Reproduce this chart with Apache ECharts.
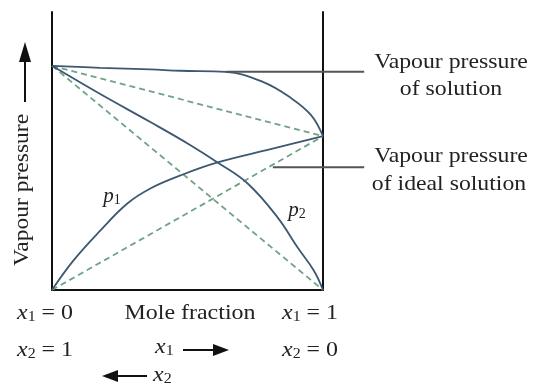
<!DOCTYPE html>
<html><head><meta charset="utf-8">
<script src="https://cdn.jsdelivr.net/npm/echarts@6/dist/echarts.min.js"></script>
<style>html,body{margin:0;padding:0;background:#fff}#c{width:533px;height:387px}</style>
</head><body><div id="c"></div>
<script>
// Mole fraction x1 (0..1) and vapour pressure (arbitrary units, p2° = 100)
const totalX = [0, 0.178, 0.363, 0.474, 0.641, 0.778, 0.881, 0.956, 1];
const totalP = [100, 99.1, 98.4, 97.8, 97.3, 92.8, 85.7, 78.0, 68.6];
const p1X = [0, 0.078, 0.178, 0.278, 0.363, 0.474, 0.611, 0.807, 1];
const p1P = [0, 13, 26.5, 38.6, 45.3, 51.1, 56.9, 62.8, 68.6];
const p2X = [0, 0.178, 0.363, 0.511, 0.611, 0.722, 0.833, 0.907, 0.967, 1];
const p2P = [100, 87.4, 74.9, 64.6, 56.9, 47.5, 32.3, 18.8, 8.5, 0];
const idealX = [0, 1];
const idealP1 = [0, 68.6];
const idealP2 = [100, 0];
const idealTotal = [100, 68.6];
// pointer (leader) lines to the annotations
const ptr1X = [0.641, 1.152], ptr1P = [97.3, 97.3];
const ptr2X = [0.815, 1.152], ptr2P = [54.7, 54.7];

const zip = (xs, ys) => xs.map((x, i) => [x, ys[i]]);
const SOLID = '#3d5870', DASH = '#6fa286', SERIF = '"Liberation Serif", "DejaVu Serif", serif';

const chart = echarts.init(document.getElementById('c'));
const lineS = (data, color, type, smooth, width) => ({
  type: 'line', data, showSymbol: false, symbol: 'none',
  smooth: smooth,
  lineStyle: { color, width, type }, silent: true, z: Array.isArray(type) ? 2 : 3
});
const rich = {
  i: { fontFamily: SERIF, fontStyle: 'italic', fontSize: 21, fill: '#222' },
  s: { fontFamily: SERIF, fontSize: 14, fill: '#222', padding: [9, 0, 0, 0] },
  n: { fontFamily: SERIF, fontSize: 21, fill: '#222' }
};
const txt = (x, y, text, align, size, sx) => ({
  type: 'text', x, y, silent: true, scaleX: sx || 1.14,
  style: { text, rich, fontFamily: SERIF, fontSize: size || 21, fill: '#222', align: align || 'center', verticalAlign: 'middle' }
});
const arrow = (x1, y1, x2, y2, hl, hw) => {
  const dx = x2 - x1, dy = y2 - y1, L = Math.hypot(dx, dy), ux = dx / L, uy = dy / L;
  hl = hl || 14; hw = hw || 5;
  const bx = x2 - ux * hl, by = y2 - uy * hl;
  return [
    { type: 'line', silent: true, shape: { x1, y1, x2: bx + ux * 2, y2: by + uy * 2 }, style: { stroke: '#111', lineWidth: 2 } },
    { type: 'polygon', silent: true, shape: { points: [[x2, y2], [bx - uy * hw, by + ux * hw], [bx + uy * hw, by - ux * hw]] }, style: { fill: '#111' } }
  ];
};
const axisCommon = { axisTick: { show: false }, axisLabel: { show: false }, splitLine: { show: false },
  axisLine: { show: true, lineStyle: { color: '#111', width: 2 } } };

chart.setOption({
  animation: false,
  grid: { left: 52, right: 210, top: 12, bottom: 97 },
  xAxis: Object.assign({ type: 'value', min: 0, max: 1 }, axisCommon),
  yAxis: [
    Object.assign({ type: 'value', min: 0, max: 124, position: 'left' }, axisCommon),
    Object.assign({ type: 'value', min: 0, max: 124, position: 'right' }, axisCommon)
  ],
  series: [
    lineS(zip(idealX, idealP1), DASH, [6, 4], false, 1.8),
    lineS(zip(idealX, idealP2), DASH, [6, 4], false, 1.8),
    lineS(zip(idealX, idealTotal), DASH, [6, 4], false, 1.8),
    lineS(zip(totalX, totalP), SOLID, 'solid', 0.4, 1.8),
    lineS(zip(p1X, p1P), SOLID, 'solid', 0.4, 1.8),
    lineS(zip(p2X, p2P), SOLID, 'solid', 0.4, 1.8)
  ]
});

const px = (x, y) => chart.convertToPixel({ gridIndex: 0 }, [x, y]);
const ptrLine = (xs, ys) => {
  const a = px(xs[0], ys[0]), b = px(xs[1], ys[1]);
  return { type: 'line', silent: true, z: 10, shape: { x1: a[0], y1: a[1], x2: b[0], y2: b[1] }, style: { stroke: '#555', lineWidth: 2 } };
};

chart.setOption({
  graphic: [
    ptrLine(ptr1X, ptr1P),
    ptrLine(ptr2X, ptr2P),
    { type: 'text', x: 22, y: 190, rotation: Math.PI / 2, scaleX: 1.12, silent: true,
      style: { text: 'Vapour pressure', fontFamily: SERIF, fontSize: 21, fill: '#222', align: 'center', verticalAlign: 'middle' } },
    ...arrow(25, 102, 25, 42, 20, 6),
    txt(451, 62, 'Vapour pressure', 'center', 22, 1.08),
    txt(451, 89, 'of solution', 'center', 22, 1.08),
    txt(451, 156, 'Vapour pressure', 'center', 22, 1.08),
    txt(449, 184, 'of ideal solution', 'center', 22, 1.08),
    txt(112, 196, '{i|p}{s|1}', 'center', 21, 1),
    txt(297, 210, '{i|p}{s|2}', 'center', 21, 1),
    txt(17, 313, '{i|x}{s|1}{n| = 0}', 'left'),
    txt(17, 350, '{i|x}{s|2}{n| = 1}', 'left'),
    txt(190, 313, 'Mole fraction', 'center'),
    txt(155, 347, '{i|x}{s|1}', 'left'),
    ...arrow(183, 350, 229, 350, 16, 6),
    ...arrow(147, 376, 102, 376, 16, 6),
    txt(153, 375, '{i|x}{s|2}', 'left'),
    txt(282, 313, '{i|x}{s|1}{n| = 1}', 'left'),
    txt(282, 350, '{i|x}{s|2}{n| = 0}', 'left')
  ]
});
</script></body></html>
